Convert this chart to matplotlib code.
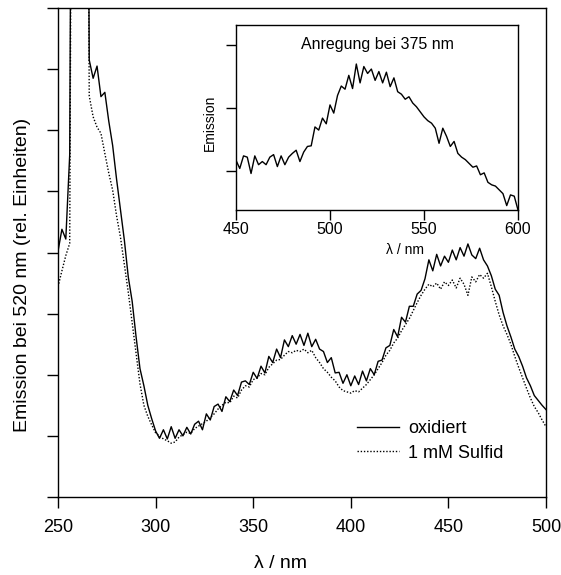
import numpy as np
import matplotlib
matplotlib.use("Agg")
import matplotlib.pyplot as plt

plt.rcParams['font.family'] = ['Liberation Sans', 'DejaVu Sans']

# main spectrum: wavelength 250..500 nm, step 2
wl = np.arange(250, 501, 2)
oxidiert = [
    4.02, 4.38, 4.22, 5.60, 20.0, 20.0, 20.0, 20.0, 7.15, 6.85,
    7.05, 6.55, 6.62, 6.15, 5.75, 5.20, 4.70, 4.20, 3.60, 3.20,
    2.62, 2.10, 1.82, 1.50, 1.28, 1.08, 0.96, 1.10, 0.95, 1.15,
    0.96, 1.10, 1.00, 1.14, 1.03, 1.19, 1.24, 1.10, 1.36, 1.26,
    1.48, 1.52, 1.40, 1.64, 1.56, 1.75, 1.66, 1.88, 1.90, 1.84,
    2.04, 1.94, 2.14, 2.03, 2.30, 2.20, 2.42, 2.28, 2.57, 2.46,
    2.64, 2.50, 2.66, 2.48, 2.68, 2.46, 2.58, 2.42, 2.38, 2.20,
    2.28, 2.03, 2.04, 1.86, 2.00, 1.82, 1.98, 1.84, 2.06, 1.90,
    2.10, 2.00, 2.22, 2.24, 2.44, 2.48, 2.74, 2.62, 2.94, 2.86,
    3.12, 3.12, 3.32, 3.38, 3.57, 3.88, 3.70, 3.97, 3.78, 3.94,
    3.84, 4.04, 3.88, 4.08, 3.94, 4.14, 3.96, 3.90, 4.07, 3.88,
    3.78, 3.62, 3.40, 3.30, 3.02, 2.80, 2.62, 2.42, 2.30, 2.14,
    1.95, 1.82, 1.66, 1.58, 1.50, 1.43,
]
sulfid = [
    3.44, 3.70, 3.95, 4.15, 20.0, 20.0, 20.0, 20.0, 6.56, 6.22,
    6.05, 5.95, 5.62, 5.30, 5.02, 4.60, 4.25, 3.80, 3.35, 2.85,
    2.35, 1.85, 1.50, 1.32, 1.18, 1.05, 1.00, 0.95, 0.92, 0.88,
    0.90, 0.98, 1.02, 1.06, 1.04, 1.12, 1.16, 1.20, 1.24, 1.30,
    1.36, 1.44, 1.50, 1.55, 1.54, 1.65, 1.62, 1.75, 1.82, 1.80,
    1.92, 1.95, 2.02, 2.00, 2.12, 2.18, 2.24, 2.25, 2.32, 2.38,
    2.36, 2.40, 2.38, 2.42, 2.36, 2.40, 2.28, 2.20, 2.10, 2.04,
    1.96, 1.90, 1.80, 1.74, 1.72, 1.70, 1.74, 1.72, 1.78, 1.84,
    1.92, 2.00, 2.10, 2.20, 2.32, 2.40, 2.52, 2.60, 2.72, 2.82,
    2.92, 3.05, 3.18, 3.30, 3.40, 3.48, 3.44, 3.50, 3.40, 3.52,
    3.46, 3.55, 3.42, 3.58, 3.48, 3.30, 3.60, 3.52, 3.64, 3.58,
    3.66, 3.44, 3.20, 2.98, 2.80, 2.66, 2.50, 2.30, 2.12, 1.95,
    1.78, 1.62, 1.48, 1.38, 1.26, 1.15,
]

# inset: emission spectrum, excitation 375 nm, 450..600 nm step 2
wl_in = np.arange(450, 601, 2)
emission = [
    1.17, 1.04, 1.24, 1.22, 0.96, 1.24, 1.10, 1.15, 1.10, 1.22,
    1.26, 1.07, 1.24, 1.10, 1.22, 1.28, 1.33, 1.15, 1.30, 1.39,
    1.40, 1.70, 1.65, 1.84, 1.75, 2.05, 1.92, 2.20, 2.35, 2.30,
    2.52, 2.31, 2.70, 2.40, 2.66, 2.55, 2.62, 2.44, 2.58, 2.40,
    2.57, 2.34, 2.48, 2.26, 2.22, 2.14, 2.18, 2.08, 2.02, 1.94,
    1.86, 1.80, 1.76, 1.68, 1.44, 1.68, 1.55, 1.39, 1.47, 1.28,
    1.22, 1.18, 1.12, 1.06, 1.08, 0.94, 0.97, 0.82, 0.78, 0.76,
    0.70, 0.64, 0.45, 0.62, 0.60, 0.38,
]

W, H = 561, 575
fig = plt.figure(figsize=(W / 100, H / 100), dpi=100)

ax = fig.add_axes([58 / W, 1 - 497 / H, 488 / W, 489 / H])
ax.plot(wl, oxidiert, color='black', lw=1.0, label='oxidiert')
ax.plot(wl, sulfid, color='black', lw=1.0, ls=(0, (1, 1.3)), label='1 mM Sulfid')
ax.set_xlim(250, 500)
ax.set_ylim(0, 8)
ax.set_xticks(np.arange(250, 501, 50))
ax.set_yticks(np.arange(0, 9, 1))
ax.set_yticklabels([])
ax.tick_params(direction='out', length=8, width=1, labelsize=13, pad=8)
for s in ax.spines.values():
    s.set_linewidth(1)

fig.text(280 / W, 1 - 563 / H, 'λ / nm', ha='center', va='center', fontsize=14)
fig.text(23 / W, 1 - 275 / H, 'Emission bei 520 nm (rel. Einheiten)',
         rotation=90, ha='center', va='center', fontsize=14)

ax.legend(loc='upper left', bbox_to_anchor=(357 / W, 1 - 420 / H),
          bbox_transform=fig.transFigure, frameon=False, fontsize=13,
          handlelength=2.3, handletextpad=0.55, labelspacing=0.42,
          borderpad=0, borderaxespad=0)

# inset
ins = fig.add_axes([236 / W, 1 - 210 / H, 282 / W, 185 / H])
ins.plot(wl_in, emission, color='black', lw=1.0)
ins.set_xlim(450, 600)
ins.set_ylim(0.38, 3.32)
ins.set_xticks([450, 500, 550, 600])
ins.set_yticks([1, 2, 3])
ins.set_yticklabels([])
ins.tick_params(direction='out', length=7, width=1, labelsize=11.5, pad=1.5)
for s in ins.spines.values():
    s.set_linewidth(1)
ins.text(0.5, 0.892, 'Anregung bei 375 nm', transform=ins.transAxes,
         ha='center', va='center', fontsize=11.5)
fig.text(405 / W, 1 - 250 / H, 'λ / nm', ha='center', va='center', fontsize=10)
fig.text(210 / W, 1 - 123 / H, 'Emission', rotation=90, ha='center', va='center', fontsize=10)

fig.savefig('out.png', dpi=100)
